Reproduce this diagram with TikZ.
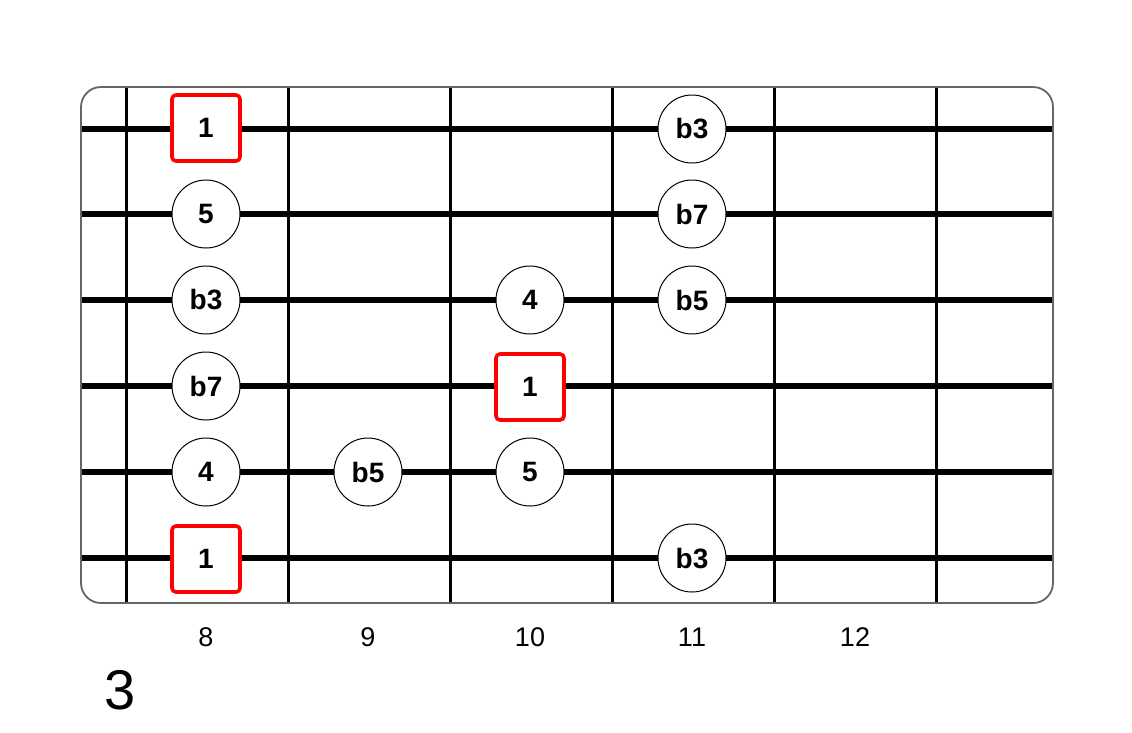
\documentclass[tikz,border=0pt]{standalone}
\usepackage{fontspec}
\setmainfont{Liberation Sans}
\begin{document}
\begin{tikzpicture}[x=1pt,y=-1pt,
  board/.style={draw=black!60,line width=1.8pt,rounded corners=20pt},
  fretline/.style={draw=black,line width=3pt},
  stringline/.style={draw=black,line width=6pt},
  note/.style={circle,draw=black,line width=1pt,fill=white,minimum size=68pt,inner sep=0pt,font=\fontsize{28}{32}\selectfont\bfseries},
  root/.style={rectangle,draw=red,line width=3.6pt,rounded corners=4pt,fill=white,minimum width=68pt,minimum height=66pt,inner sep=0pt,font=\fontsize{28}{32}\selectfont\bfseries},
  fretnum/.style={font=\fontsize{27}{30}\selectfont},
  biglabel/.style={font=\fontsize{56}{60}\selectfont}]
\useasboundingbox (0,0) rectangle (1132,732);
\fill[white] (0,0) rectangle (1132,732);
% frets
\foreach \x [count=\i] in {126,288,450,612,774,936} {
  \coordinate (ft\i) at (\x,88);
  \coordinate (fb\i) at (\x,602);
  \draw[fretline] (ft\i) -- (fb\i);
}
% strings
\foreach \y [count=\j] in {129,214,300,386,472,558} {
  \coordinate (sl\j) at (82,\y);
  \coordinate (sr\j) at (1052,\y);
  \draw[stringline] (sl\j) -- (sr\j);
}
\draw[board] (81,87) rectangle (1053,603);
% notes
\node[root] (n11) at (206,128) {1};
\node[note] (n12) at (692,129) {b3};
\node[note] (n21) at (206,214) {5};
\node[note] (n22) at (692,214) {b7};
\node[note] (n31) at (206,300) {b3};
\node[note] (n32) at (530,300) {4};
\node[note] (n33) at (692,300) {b5};
\node[note] (n41) at (206,386) {b7};
\node[root] (n42) at (530,387) {1};
\node[note] (n51) at (206,472) {4};
\node[note] (n52) at (368,472) {b5};
\node[note] (n53) at (530,472) {5};
\node[root] (n61) at (206,559) {1};
\node[note] (n62) at (692,558) {b3};
% fret numbers
\node[fretnum] (f8) at (206,637) {8};
\node[fretnum] (f9) at (368,637) {9};
\node[fretnum] (f10) at (530,637) {10};
\node[fretnum] (f11) at (692,637) {11};
\node[fretnum] (f12) at (855,637) {12};
\node[biglabel] (pos) at (120,690) {3};
\end{tikzpicture}
\end{document}
